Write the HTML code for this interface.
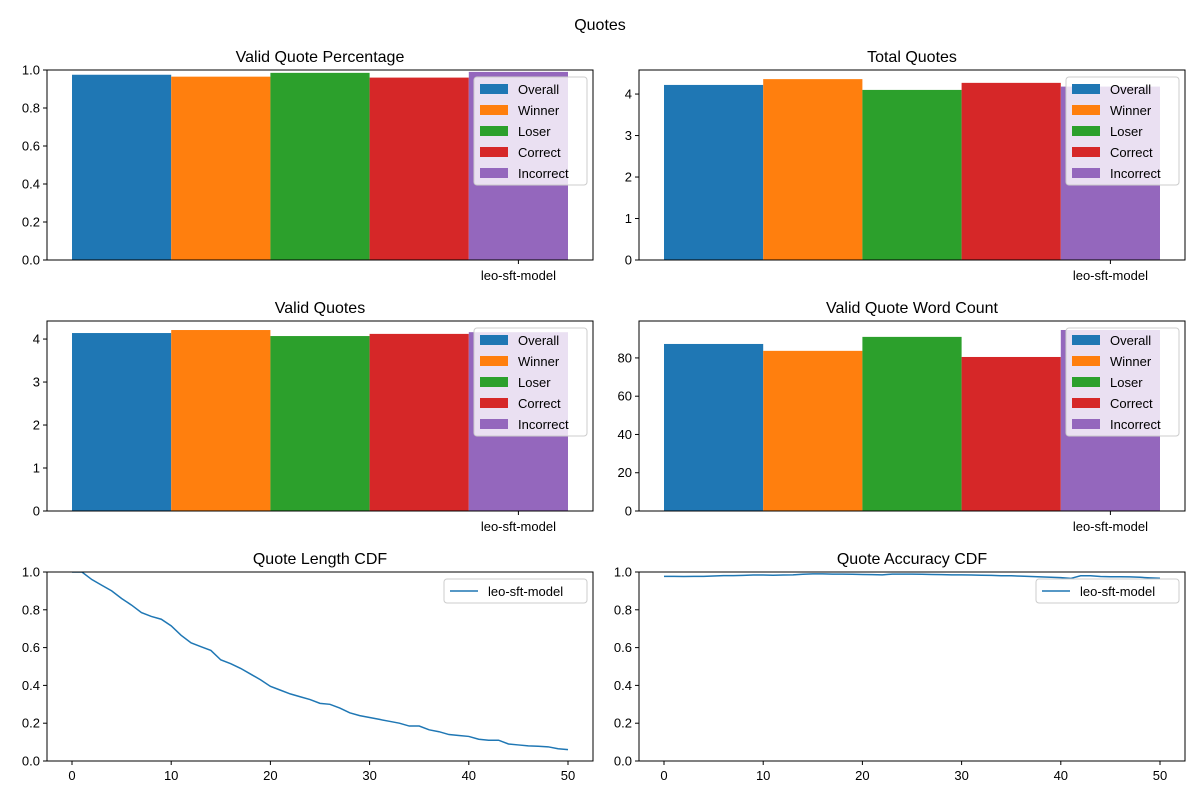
<!DOCTYPE html>
<html><head><meta charset="utf-8"><style>
body{margin:0;background:#fff;}
svg{font-family:"Liberation Sans","DejaVu Sans",sans-serif;}
</style></head><body>
<svg id="c" width="1200" height="800" xmlns="http://www.w3.org/2000/svg">
<text x="600" y="30" text-anchor="middle" font-size="16">Quotes</text>
</svg>
<script>
const seriesNames = ["Overall","Winner","Loser","Correct","Incorrect"];
const colors = ["#1f77b4","#ff7f0e","#2ca02c","#d62728","#9467bd"];
const validPct = [0.975,0.965,0.985,0.96,0.99];
const totalQuotes = [4.22,4.36,4.10,4.27,4.18];
const validQuotes = [4.14,4.21,4.07,4.12,4.16];
const wordCount = [87.3,83.7,91.0,80.5,94.6];
const ticksPct = [0,0.2,0.4,0.6,0.8,1.0];
const ticksTotal = [0,1,2,3,4];
const ticksValid = [0,1,2,3,4];
const ticksWord = [0,20,40,60,80];
const cdfX = [0,1,2,3,4,5,6,7,8,9,10,11,12,13,14,15,16,17,18,19,20,21,22,23,24,25,26,27,28,29,30,31,32,33,34,35,36,37,38,39,40,41,42,43,44,45,46,47,48,49,50];
const lengthCdf = [1.0,1.0,0.96,0.93,0.9,0.86,0.825,0.785,0.765,0.75,0.715,0.665,0.625,0.605,0.585,0.535,0.515,0.49,0.46,0.43,0.395,0.375,0.355,0.34,0.325,0.305,0.3,0.28,0.255,0.24,0.23,0.22,0.21,0.2,0.185,0.185,0.165,0.155,0.14,0.135,0.13,0.115,0.11,0.11,0.09,0.085,0.08,0.078,0.075,0.065,0.06];
const accCdf = [0.977,0.977,0.976,0.977,0.977,0.979,0.981,0.981,0.982,0.984,0.984,0.983,0.984,0.985,0.988,0.99,0.99,0.989,0.989,0.988,0.987,0.986,0.985,0.989,0.989,0.989,0.988,0.987,0.986,0.985,0.985,0.984,0.983,0.982,0.98,0.98,0.978,0.976,0.974,0.972,0.97,0.966,0.98,0.98,0.976,0.975,0.975,0.974,0.972,0.969,0.967];
const cdfTicksX = [0,10,20,30,40,50];
const cdfTicksY = [0,0.2,0.4,0.6,0.8,1.0];

const svg = document.getElementById('c');
const NS = "http://www.w3.org/2000/svg";
function el(tag, attrs, parent){const e=document.createElementNS(NS,tag);for(const k in attrs)e.setAttribute(k,attrs[k]);(parent||svg).appendChild(e);return e;}
function txt(x,y,s,attrs,parent){const t=el('text',Object.assign({x:x,y:y,'font-size':13},attrs||{}),parent);t.textContent=s;return t;}

function frame(g,x0,y0,w,h,title,slug){
  el('rect',{x:x0,y:y0,width:w,height:h,fill:'none',stroke:'#000','stroke-width':1},g);
  const t=txt(x0+w/2,y0-8,title,{'text-anchor':'middle','font-size':16},g);
  
  
}
function yTicks(g,x0,yf,ticks,fmt){
  ticks.forEach(v=>{const y=yf(v);
    el('line',{x1:x0-4,x2:x0,y1:y,y2:y,stroke:'#000'},g);
    const t=txt(x0-7,y+4.5,fmt(v),{'text-anchor':'end'},g);
    
    
  });
}
function barPanel(x0,y0,w,h,title,slug,vals,ymax,ticks,fmt){
  const g=el('g',{});
  
  
  const yf=v=>y0+h-v/ymax*h;
  const bw=99.2, start=x0+25;
  vals.forEach((v,i)=>{
    const r=el('rect',{x:start+i*bw,y:yf(v),width:bw,height:yf(0)-yf(v),fill:colors[i]},g);
    
    
  });
  frame(g,x0,y0,w,h,title,slug);
  yTicks(g,x0,yf,ticks,fmt);
  const tx=start+4.5*bw;
  el('line',{x1:tx,x2:tx,y1:y0+h,y2:y0+h+4,stroke:'#000'},g);
  const tl=txt(tx,y0+h+20,'leo-sft-model',{'text-anchor':'middle'},g);
  
  
  const lx=x0+w-119, ly=y0+7;
  const lg=el('g',{},g);
  
  
  el('rect',{x:lx,y:ly,width:113,height:108,rx:3,fill:'#fff','fill-opacity':0.8,stroke:'#ccc'},lg);
  seriesNames.forEach((n,i)=>{
    const e=el('g',{},lg);
    
    
    el('rect',{x:lx+6,y:ly+7+i*21,width:28,height:10,fill:colors[i]},e);
    txt(lx+44,ly+17+i*21,n,{},e);
  });
}
function linePanel(x0,y0,w,h,title,slug,xs,ys){
  const g=el('g',{});
  
  
  const xf=v=>x0+25+v/50*496, yf=v=>y0+h-v*h;
  const clip=el('clipPath',{id:'clip-'+slug},g);
  el('rect',{x:x0,y:y0,width:w,height:h},clip);
  const p=el('polyline',{points:xs.map((x,i)=>xf(x)+','+yf(ys[i])).join(' '),fill:'none',stroke:'#1f77b4','stroke-width':1.5,'clip-path':'url(#clip-'+slug+')'},g);
  
  
  frame(g,x0,y0,w,h,title,slug);
  yTicks(g,x0,yf,cdfTicksY,v=>v.toFixed(1));
  cdfTicksX.forEach(v=>{const x=xf(v);
    el('line',{x1:x,x2:x,y1:y0+h,y2:y0+h+4,stroke:'#000'},g);
    const t=txt(x,y0+h+19,String(v),{'text-anchor':'middle'},g);
    
    
  });
  const lg=el('g',{},g);
  
  
  const lx=x0+w-149, ly=y0+7;
  el('rect',{x:lx,y:ly,width:143,height:24,rx:3,fill:'#fff','fill-opacity':0.8,stroke:'#ccc'},lg);
  el('line',{x1:lx+6,x2:lx+34,y1:ly+12,y2:ly+12,stroke:'#1f77b4','stroke-width':1.5},lg);
  txt(lx+44,ly+17,'leo-sft-model',{},lg);
}
const L=47,R=639,W=546;
barPanel(L,70,W,190,'Valid Quote Percentage','valid-quote-percentage',validPct,1.0,ticksPct,v=>v.toFixed(1));
barPanel(R,70,W,190,'Total Quotes','total-quotes',totalQuotes,4.58,ticksTotal,v=>String(v));
barPanel(L,321,W,190,'Valid Quotes','valid-quotes',validQuotes,4.42,ticksValid,v=>String(v));
barPanel(R,321,W,190,'Valid Quote Word Count','valid-quote-word-count',wordCount,99.3,ticksWord,v=>String(v));
linePanel(L,572,W,189,'Quote Length CDF','quote-length-cdf',cdfX,lengthCdf);
linePanel(R,572,W,189,'Quote Accuracy CDF','quote-accuracy-cdf',cdfX,accCdf);
</script>
</body></html>
